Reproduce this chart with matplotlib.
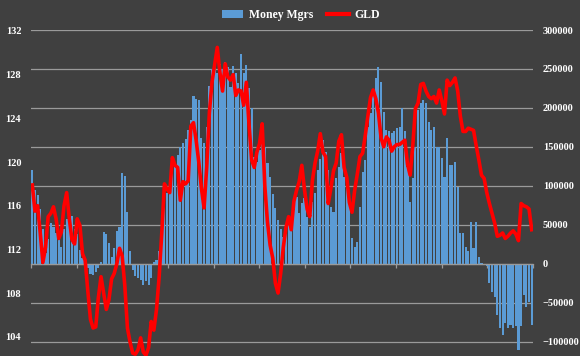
import matplotlib
matplotlib.use("Agg")
import matplotlib.pyplot as plt
import numpy as np
from matplotlib.patches import Patch
from matplotlib.lines import Line2D

# weekly net position of money managers (contracts)
money_mgrs_k = [
    120, 95, 88, 70, 45, 14, 32, 52, 48, 40,
    33, 22, 45, 58, 67, 62, 45, 38, 18, 8,
    2, -5, -13, -14, -10, -5, 3, 41, 38, 27,
    9, 20, 42, 48, 117, 113, 67, 17, -8, -15,
    -18, -20, -27, -22, -27, -18, 2, 5, 16, 46,
    82, 91, 95, 124, 128, 140, 150, 155, 160, 172,
    185, 215, 212, 210, 161, 155, 176, 228, 250, 259,
    245, 257, 250, 259, 252, 227, 254, 245, 232, 269,
    245, 255, 225, 200, 137, 131, 146, 172, 150, 130,
    112, 90, 72, 56, 45, 35, 47, 60, 52, 69,
    86, 65, 78, 84, 60, 47, 80, 91, 120, 135,
    159, 144, 120, 73, 67, 110, 124, 142, 112, 99,
    86, 33, 22, 28, 73, 118, 133, 176, 194, 221,
    238, 253, 233, 195, 172, 170, 168, 170, 174, 176,
    200, 170, 124, 80, 110, 150, 197, 206, 210, 206,
    182, 172, 176, 150, 150, 136, 112, 162, 127, 127,
    131, 99, 40, 40, 22, 17, 54, 20, 54, 9,
    1, -1, -3, -24, -36, -42, -65, -82, -91, -76,
    -82, -78, -82, -80, -110, -80, -40, -55, -49, -78,
]
money_mgrs = [v * 1000 for v in money_mgrs_k]

# GLD weekly close
gld = [
    117.9, 115.5, 116.0, 113.5, 110.8, 112.2, 115.0, 115.3, 115.9, 114.8,
    113.0, 113.6, 116.0, 117.2, 114.8, 112.9, 112.5, 114.8, 114.2, 111.6,
    111.0, 108.2, 105.6, 104.8, 104.9, 107.6, 109.5, 108.0, 106.5, 107.4,
    109.3, 109.8, 110.7, 112.1, 111.4, 108.7, 104.8, 103.5, 102.5, 102.4,
    102.8, 103.9, 102.6, 102.3, 103.0, 105.4, 104.6, 106.5, 109.5, 113.5,
    118.0, 117.5, 117.2, 120.4, 119.7, 119.5, 116.5, 118.2, 118.0, 118.3,
    123.3, 123.6, 122.0, 120.0, 117.6, 115.8, 119.5, 124.5, 127.3, 128.9,
    130.5, 128.2, 126.5, 129.0, 127.8, 127.5, 128.0, 126.1, 126.6, 126.5,
    125.2, 127.3, 123.5, 120.2, 119.5, 120.9, 121.7, 123.5, 117.8, 114.5,
    112.4, 111.2, 108.9, 108.0, 109.8, 112.2, 114.0, 115.0, 113.8, 116.4,
    117.4, 118.2, 119.7, 117.5, 115.7, 115.0, 118.3, 119.9, 121.0, 122.6,
    120.9, 120.5, 116.2, 117.6, 119.2, 119.9, 121.9, 122.5, 119.5, 118.6,
    116.3, 115.4, 117.4, 118.9, 120.5, 120.8, 122.4, 124.2, 125.9, 126.6,
    125.8, 124.5, 122.2, 121.4, 122.3, 122.0, 121.0, 121.4, 121.6, 121.6,
    121.8, 122.0, 119.8, 118.8, 121.5, 124.9, 125.4, 127.1, 127.2, 126.5,
    126.0, 125.8, 126.0, 125.4, 126.6, 125.6, 124.4, 127.5, 127.0, 127.3,
    127.7, 126.5, 124.2, 122.8, 122.8, 123.1, 123.0, 122.9, 121.5, 120.2,
    118.8, 118.5, 117.2, 116.2, 115.3, 114.4, 113.2, 113.3, 113.5, 113.0,
    113.2, 113.5, 113.7, 113.4, 112.8, 116.2, 116.0, 115.9, 115.7, 113.8,
]

left_ticks = [104, 108, 112, 116, 120, 124, 128, 132]
right_ticks = [-100000, -50000, 0, 50000, 100000, 150000, 200000, 250000, 300000]

bg = "#404040"
grid_col = "#9a9a9a"
bar_col = "#5b9bd5"
plt.rcParams["font.family"] = ["Liberation Serif", "DejaVu Serif"]

n = len(money_mgrs)
x = np.arange(n)

fig = plt.figure(figsize=(5.8, 3.56), dpi=100, facecolor=bg)
ax = fig.add_axes([31 / 580, 0.0, 502 / 580, 1 - 30 / 356])
ax.set_facecolor(bg)
ax2 = ax.twinx()

# bars: right-hand scale
ax.bar(x, money_mgrs, width=0.8, color=bar_col, linewidth=0, zorder=2)
ax.set_ylim(-118000, 300000)
ax.set_yticks(right_ticks)
ax.yaxis.tick_right()
ax.tick_params(axis="y", length=0, pad=7, labelsize=7.5, labelcolor="white")
for lbl in ax.get_yticklabels():
    lbl.set_fontweight("bold")
ax.grid(axis="y", color=grid_col, linewidth=0.9, zorder=0)
ax.set_axisbelow(True)
ax.set_xlim(-0.5, n - 0.5)

# category axis sits on the zero line, tick every ~4 months
ax.spines["bottom"].set_position(("data", 0))
ax.spines["bottom"].set_color(grid_col)
ax.spines["bottom"].set_linewidth(0.9)
for s in ["top", "left", "right"]:
    ax.spines[s].set_visible(False)
ax.set_xticks(-0.5 + np.arange(12) * n / 11)
ax.set_xticklabels([])
ax.tick_params(axis="x", direction="out", length=3, color=grid_col, width=0.9)

# GLD line: left-hand scale
ax2.plot(x, gld, color="#ff0000", linewidth=2.6, solid_joinstyle="round", zorder=3)
ax2.set_ylim(132.09 - 326 / 10.92, 132.09)
ax2.set_yticks(left_ticks)
ax2.yaxis.tick_left()
ax2.tick_params(axis="y", length=0, pad=7, labelsize=7.5, labelcolor="white")
for lbl in ax2.get_yticklabels():
    lbl.set_fontweight("bold")
for s in ax2.spines.values():
    s.set_visible(False)

handles = [Patch(facecolor=bar_col, edgecolor="none", label="Money Mgrs"),
           Line2D([0], [0], color="#ff0000", linewidth=3, label="GLD")]
fig.legend(handles=handles, loc="center", bbox_to_anchor=(301 / 580, 1 - 15 / 356),
           ncol=2, frameon=False, prop={"weight": "bold", "size": 8.5},
           labelcolor="white", handlelength=1.8, handleheight=0.6,
           columnspacing=1.2, handletextpad=0.5)

fig.savefig("out.png", dpi=100, facecolor=bg)
